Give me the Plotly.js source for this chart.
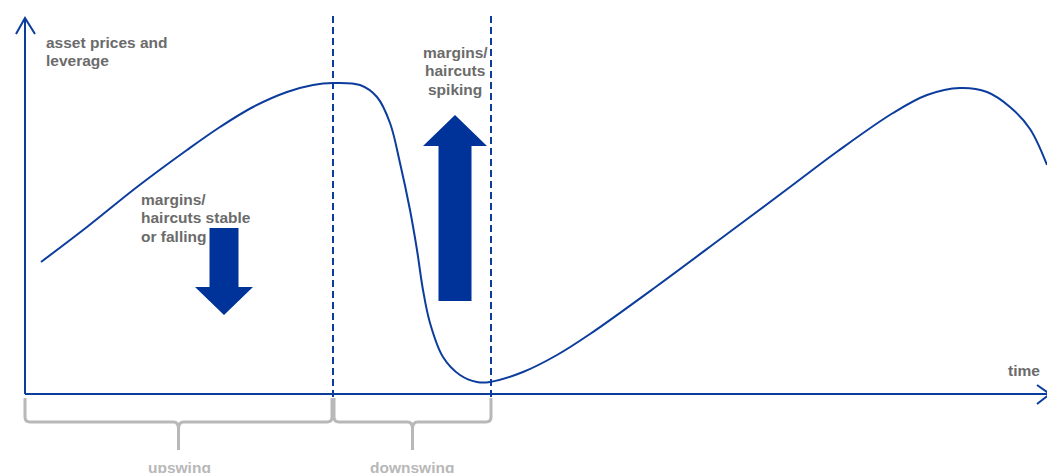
<!DOCTYPE html>
<html>
<head>
<meta charset="utf-8">
<script src="https://cdn.plot.ly/plotly-3.0.1.min.js"></script>
<style>html,body{margin:0;padding:0;background:#fff;}#chart{width:1047px;height:473px;}</style>
</head>
<body>
<div id="chart"></div>
<script>
// time (x) and asset prices & leverage (y)
var curveT = [16, 62, 112, 162, 195, 228, 262, 288, 308, 335, 352, 365, 375, 385, 392, 398, 405, 418, 435, 452, 465, 498, 532, 565, 632, 698, 765, 813, 868, 902, 935, 962, 985, 1005, 1022];
var curveLevel = [132, 167, 207, 244, 267, 287, 302, 309, 311, 309, 297, 271, 231, 184, 144, 104, 71, 37, 19, 12, 12, 22, 39, 60, 108, 157, 207, 243, 281, 299, 306, 302, 287, 265, 229];
// phase boundaries (peak and trough)
var phaseBounds = [0, 308, 466];
var phaseLabels = ["upswing", "downswing"];
var yAxisLabel = ["asset prices and", "leverage"];
var xAxisLabel = ["time"];
var upswingNote = ["margins/", "haircuts stable", "or falling"];
var downswingNote = ["margins/", "haircuts", "spiking"];

var BLUE = '#0c3d9c', ARROW = '#003399', GREY = '#6b6b6b', LIGHT = '#b8b8b8';
var FONT = 'Liberation Sans, Arial, sans-serif';

var shapes = [];
// axes
shapes.push({type:'line', xref:'x', yref:'y', x0:0, y0:0, x1:0, y1:376, line:{color:BLUE, width:2}});
shapes.push({type:'line', xref:'x', yref:'y', x0:0, y0:0, x1:1025, y1:0, line:{color:BLUE, width:2}});
shapes.push({type:'path', xref:'x', yref:'y', path:'M -9 360 L 0 376 L 10 360', line:{color:BLUE, width:2}});
shapes.push({type:'path', xref:'x', yref:'y', path:'M 1012 9 L 1025 0 L 1012 -10', line:{color:BLUE, width:2}});
// dashed phase lines
[phaseBounds[1], phaseBounds[2]].forEach(function(t){
  shapes.push({type:'line', xref:'x', yref:'y', x0:t, y0:-3, x1:t, y1:378, line:{color:BLUE, width:2, dash:'7px,4px'}});
});
// braces
function brace(a, b){
  var m = (a+b)/2, top=-4, mid=-28, tip=-56, r=5;
  return 'M '+a+' '+top+' L '+a+' '+(mid+r)+' Q '+a+' '+mid+' '+(a+r)+' '+mid+
    ' L '+(m-r)+' '+mid+' Q '+m+' '+mid+' '+m+' '+(mid-r-2)+' L '+m+' '+tip+
    ' M '+m+' '+(mid-r-2)+' Q '+m+' '+mid+' '+(m+r)+' '+mid+' L '+(b-r)+' '+mid+
    ' Q '+b+' '+mid+' '+b+' '+(mid+r)+' L '+b+' '+top;
}
for (var i=0;i<2;i++){
  shapes.push({type:'path', xref:'x', yref:'y', path:brace(phaseBounds[i]+(i?1:0), phaseBounds[i+1]-(i?0:1)), line:{color:LIGHT, width:3}});
}
// block arrows
function blockArrow(cx, base, headBase, tip, shaftHalf, headHalf){
  return 'M '+(cx-shaftHalf)+' '+base+' L '+(cx-shaftHalf)+' '+headBase+' L '+(cx-headHalf)+' '+headBase+
    ' L '+cx+' '+tip+' L '+(cx+headHalf)+' '+headBase+' L '+(cx+shaftHalf)+' '+headBase+' L '+(cx+shaftHalf)+' '+base+' Z';
}
shapes.push({type:'path', xref:'x', yref:'y', path:blockArrow(199, 166, 107, 79, 14.5, 29), fillcolor:ARROW, line:{width:0}});
shapes.push({type:'path', xref:'x', yref:'y', path:blockArrow(430, 93, 248, 279, 16.5, 32), fillcolor:ARROW, line:{width:0}});

var ann = [];
var LINE = 18.8;
function lines(arr, x, yFirst, xa, color, ya){
  arr.forEach(function(t, k){
    ann.push({text:'<b>'+t+'</b>', x:x, y:yFirst - k*LINE, xref:'x', yref:'y', xanchor:xa, yanchor:ya||'middle', showarrow:false,
      font:{family:FONT, size:15.5, color:color}});
  });
}
lines(yAxisLabel, 19, 352, 'left', GREY);
lines(xAxisLabel, 1017, 24, 'right', GREY);
lines(upswingNote, 114, 195, 'left', GREY);
lines(downswingNote, 430, 342, 'center', GREY);
lines([phaseLabels[0]], (phaseBounds[0]+phaseBounds[1])/2, -63, 'center', LIGHT, 'top');
lines([phaseLabels[1]], (phaseBounds[1]+phaseBounds[2])/2, -63, 'center', LIGHT, 'top');

var trace = {x:curveT, y:curveLevel, type:'scatter', mode:'lines', line:{color:BLUE, width:2, shape:'spline', smoothing:1}, hoverinfo:'skip', cliponaxis:false};

var layout = {
  width:1047, height:473, margin:{l:0, r:0, t:0, b:0},
  paper_bgcolor:'#fff', plot_bgcolor:'#fff', showlegend:false,
  xaxis:{range:[-25, 1022], visible:false, fixedrange:true},
  yaxis:{range:[-79, 394], visible:false, fixedrange:true},
  shapes:shapes, annotations:ann
};
Plotly.newPlot('chart', [trace], layout, {staticPlot:true, displayModeBar:false});
</script>
</body>
</html>
